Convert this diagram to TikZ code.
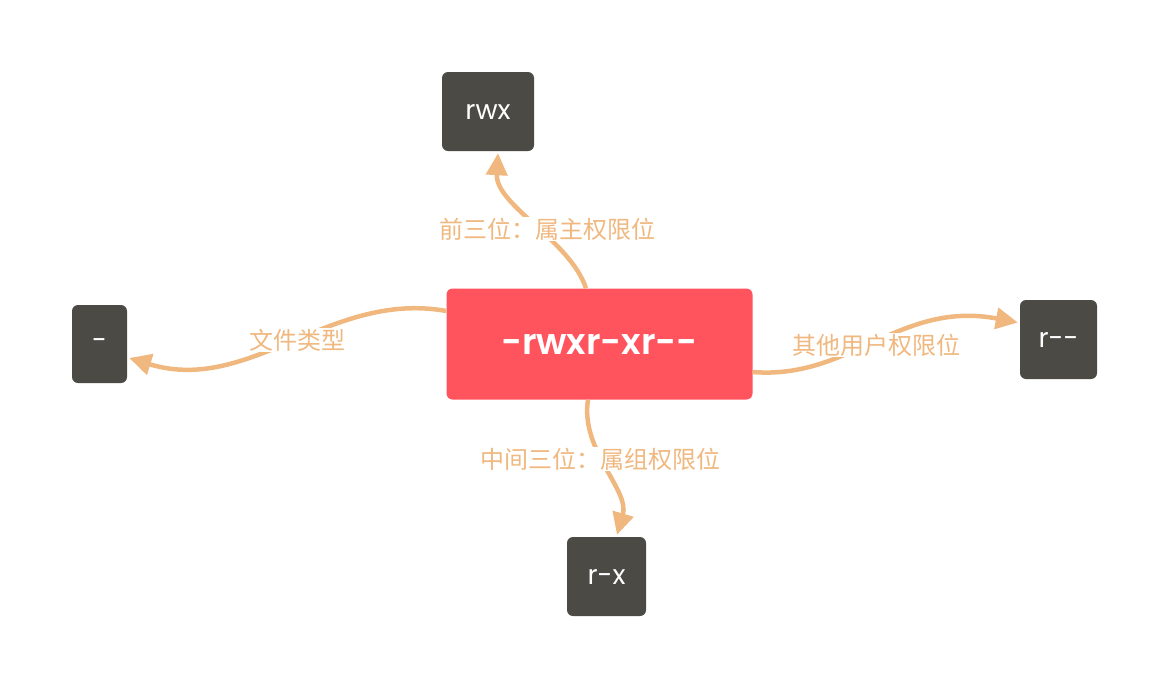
\documentclass[tikz,border=0pt]{standalone}
\usepackage{fontspec}
\setmainfont{Poppins}[BoldFont={Poppins SemiBold}]
\newfontfamily\cjk{Noto Sans CJK SC}
\usetikzlibrary{arrows.meta}
\definecolor{orng}{HTML}{F0B87F}
\definecolor{dark}{HTML}{4B4A45}
\definecolor{rootred}{HTML}{FF535E}
\tikzset{
  leafbox/.style={fill=dark, rounded corners=6pt, text=white, inner sep=0pt, font=\fontsize{27}{30}\selectfont},
  rootbox/.style={fill=rootred, rounded corners=6pt, text=white, inner sep=0pt, minimum width=306pt, minimum height=111pt, font=\fontsize{36}{40}\selectfont\bfseries},
  link/.style={draw=orng, line width=4.5pt, -{Triangle[length=22pt,width=21pt]}},
  lbl/.style={fill=white, text=orng, inner sep=1pt, font=\cjk\fontsize{24}{26}\selectfont}
}
\begin{document}
\begin{tikzpicture}[x=1pt,y=-1pt]
\useasboundingbox (0,0) rectangle (1169,689);
\node[rootbox] (c) at (599.5,344) {-rwxr-xr-{}-};
\node[leafbox, minimum width=92pt, minimum height=79pt] (rwx) at (488,111.5) {rwx};
\node[leafbox, minimum width=55pt, minimum height=78pt] (d) at (99.5,344) {-};
\node[leafbox, minimum width=77pt, minimum height=79pt] (r) at (1058.5,339.5) {r-{}-};
\node[leafbox, minimum width=79pt, minimum height=79pt] (rx) at (606.5,576.5) {r-x};
% connectors
\draw[link] ([xshift=-13.5pt]c.north) .. controls (570,240) and (495,205) .. ([xshift=10pt,yshift=-2pt]rwx.south);
\draw[link] ([yshift=33pt]c.west) .. controls (330,290) and (250,395) .. ([xshift=2pt,yshift=-14pt]d.east);
\draw[link] ([yshift=-28pt]c.east) .. controls (850,380) and (900,300) .. ([xshift=-2pt,yshift=17pt]r.west);
\draw[link] ([xshift=-11.5pt]c.south) .. controls (580,450) and (630,490) .. ([xshift=10.5pt,yshift=2pt]rx.north);
% labels
\node[lbl] (l1) at (547,229) {前三位：属主权限位};
\node[lbl] (l2) at (297,340) {文件类型};
\node[lbl] (l3) at (876,345) {其他用户权限位};
\node[lbl] (l4) at (600,459) {中间三位：属组权限位};
\end{tikzpicture}
\end{document}
